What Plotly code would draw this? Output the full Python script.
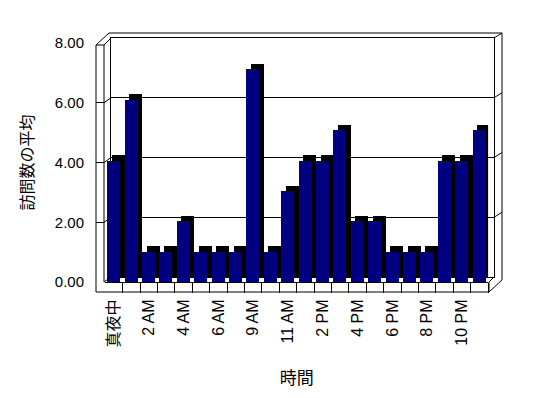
import plotly.graph_objects as go

# ---- data ----
hours = ["真夜中", "1 AM", "2 AM", "3 AM", "4 AM", "5 AM", "6 AM", "7 AM", "9 AM", "10 AM",
         "11 AM", "12 PM", "2 PM", "3 PM", "4 PM", "5 PM", "6 PM", "7 PM", "8 PM", "9 PM",
         "10 PM", "11 PM"]
avg_visits = [4, 6, 1, 1, 2, 1, 1, 1, 7, 1, 3, 4, 4, 5, 2, 2, 1, 1, 1, 4, 4, 5]
y_ticks = [0, 2, 4, 6, 8]
y_title = "訪問数の平均"
x_title = "時間"

# the page body has an 8px margin: the figure is drawn 8px in, so size it to fit
OFF = 8
W, H = 548 - OFF, 398 - OFF
def X(px): return (px - OFF) / W
def Y(py): return 1 - (py - OFF) / H

FONT = "Liberation Sans, Arial, Noto Sans CJK JP, sans-serif"
NAVY = "#000080"

xs = list(range(len(hours)))
bar_w = 0.75
dx = 0.26   # depth shift (category units)
dy = 0.18   # depth shift (value units)

fig = go.Figure()

fig.add_trace(go.Scatter(x=[0], y=[0], mode="markers", marker=dict(opacity=0),
                         hoverinfo="skip", showlegend=False, xaxis="x", yaxis="y"))
fig.add_trace(go.Scatter(x=[0], y=[0], mode="markers", marker=dict(opacity=0),
                         hoverinfo="skip", showlegend=False, xaxis="x2", yaxis="y2"))
fig.add_trace(go.Bar(x=xs, y=avg_visits, base=dy, width=bar_w, offset=-bar_w / 2 + dx,
                     marker=dict(color="black", line=dict(width=0)),
                     hoverinfo="skip", showlegend=False, xaxis="x3", yaxis="y3"))
fig.add_trace(go.Bar(x=xs, y=avg_visits, width=bar_w,
                     marker=dict(color=NAVY, line=dict(width=0)),
                     showlegend=False, xaxis="x3", yaxis="y3"))

def yf(v): return 282 - 29.875 * v
def yb(v): return 277 - 29.875 * v

segs = [
    ((96, 45), (96, 292)), ((104, 45), (104, 282)), ((96, 45), (104, 45)),
    ((96, 45), (109, 33)), ((104, 45), (111, 38)), ((109, 33), (502, 33)),
    ((494, 38), (502, 33)), ((502, 33), (502, 280)),
    ((96, 292), (489, 292)), ((489, 282), (489, 292)),
    ((489, 292), (502, 280)), ((489, 282), (494, 277)),
]
for v in y_ticks[:-1]:
    segs.append(((104, yf(v)), (111, yb(v))))
    if v > 0:
        segs.append(((494, yb(v)), (502, yb(v) - 5)))

shapes = [dict(type="line", xref="paper", yref="paper",
               x0=X(a[0]), y0=Y(a[1]), x1=X(b[0]), y1=Y(b[1]),
               line=dict(color="black", width=1)) for a, b in segs]

fig.update_layout(
    width=W, height=H, autosize=False,
    margin=dict(l=0, r=0, t=0, b=0, pad=0, autoexpand=False),
    paper_bgcolor="white", plot_bgcolor="rgba(0,0,0,0)",
    barmode="overlay", bargap=0,
    font=dict(family=FONT, size=15, color="black"),
    shapes=shapes,
    xaxis=dict(domain=[X(111), X(494)], range=[0, 1], anchor="y", automargin=False,
               showgrid=False, zeroline=False, showticklabels=False, ticks="",
               showline=True, mirror=True, linecolor="black", linewidth=1),
    yaxis=dict(domain=[Y(277), Y(38)], range=[0, 8], anchor="x", dtick=2, tick0=0,
               automargin=False,
               showgrid=True, gridcolor="black", gridwidth=1, zeroline=False,
               showticklabels=False, ticks="",
               showline=True, mirror=True, linecolor="black", linewidth=1),
    xaxis2=dict(domain=[X(96), X(104)], range=[0, 1], anchor="y2", visible=False,
                automargin=False),
    yaxis2=dict(domain=[Y(282), Y(43)], range=[0, 8], anchor="x2", side="left",
                automargin=False,
                tickvals=y_ticks, tickformat=".2f", ticks="inside", ticklen=8,
                tickcolor="black", showgrid=False, zeroline=False, showline=False,
                ticklabelstandoff=11, tickfont=dict(size=15),
                title=dict(text=y_title, standoff=17, font=dict(size=16))),
    xaxis3=dict(domain=[X(105.3), X(488.1)], range=[-0.5, 21.5], anchor="y3",
                automargin=False,
                tickvals=xs[::2], ticktext=hours[::2], tickangle=-90, ticks="",
                ticklabelstandoff=10, tickfont=dict(size=16),
                showgrid=False, zeroline=False,
                showline=True, linecolor="black", linewidth=1,
                minor=dict(tickvals=[i + 0.5 for i in xs], ticks="outside", ticklen=10,
                           tickcolor="black", tickwidth=1, showgrid=False),
                title=dict(text=x_title, standoff=25, font=dict(size=17))),
    yaxis3=dict(domain=[Y(282), Y(38.8)], range=[0, 8], anchor="x3", visible=False,
                automargin=False),
)

fig.write_html("out.html")
